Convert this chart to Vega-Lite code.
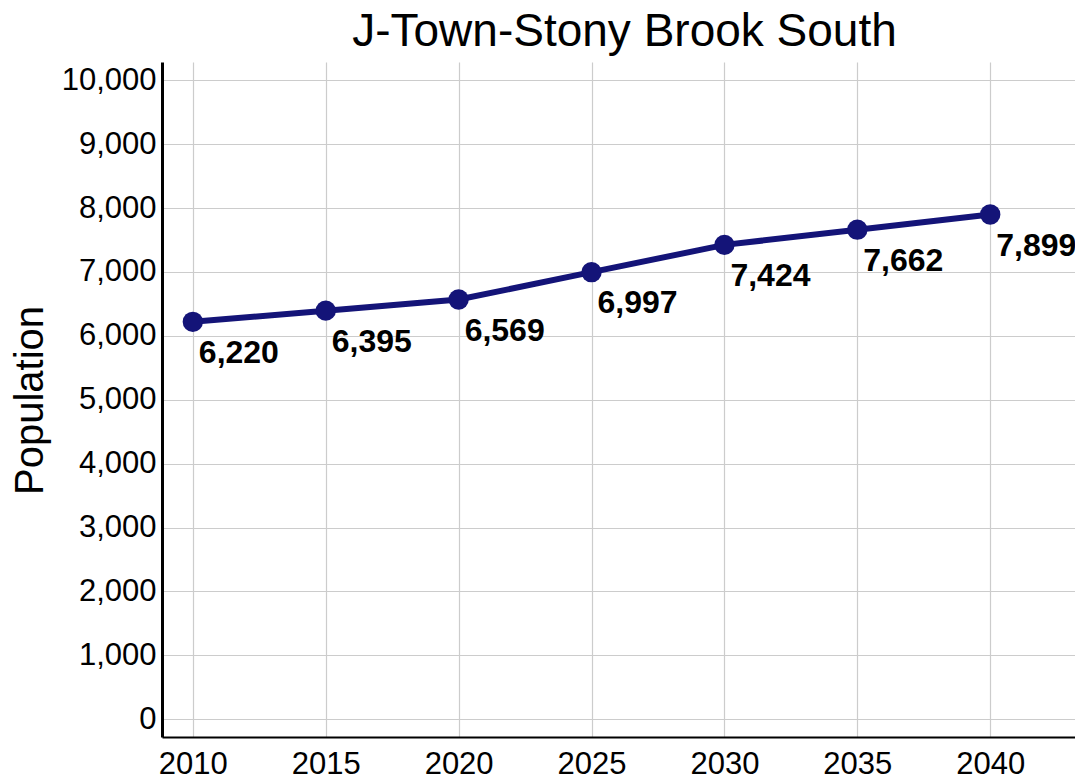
{
  "$schema": "https://vega.github.io/schema/vega-lite/v6.json",
  "width": 913,
  "height": 675,
  "autosize": {"type": "none"},
  "padding": {"left": 162, "top": 62, "right": 0, "bottom": 41},
  "background": "white",
  "config": {
    "font": "Liberation Sans",
    "view": {"stroke": null},
    "axis": {"labelColor": "black", "titleColor": "black"}
  },
  "title": {
    "text": "J-Town-Stony Brook South",
    "fontSize": 46,
    "fontWeight": "normal",
    "font": "Liberation Sans",
    "color": "black",
    "anchor": "middle",
    "frame": "group",
    "baseline": "alphabetic",
    "offset": 14,
    "dx": 6,
    "dy": 44
  },
  "data": {
    "values": [
      {"year": 2010, "population": 6220},
      {"year": 2015, "population": 6395},
      {"year": 2020, "population": 6569},
      {"year": 2025, "population": 6997},
      {"year": 2030, "population": 7424},
      {"year": 2035, "population": 7662},
      {"year": 2040, "population": 7899}
    ]
  },
  "encoding": {
    "x": {
      "field": "year",
      "type": "quantitative",
      "scale": {"domain": [2008.84, 2043.19], "nice": false, "zero": false},
      "axis": {
        "title": null,
        "values": [2010, 2015, 2020, 2025, 2030, 2035, 2040],
        "format": "d",
        "labelFontSize": 31,
        "labelPadding": 12,
        "ticks": false,
        "tickSize": 0,
        "domainColor": "black",
        "domainWidth": 2,
        "gridColor": "#cccccc",
        "gridWidth": 1.2,
        "labelFlush": false,
        "labelOverlap": false
      }
    },
    "y": {
      "field": "population",
      "type": "quantitative",
      "scale": {"domain": [-277, 10286], "nice": false, "zero": false},
      "axis": {
        "title": "Population",
        "titleFontSize": 40,
        "titleFontWeight": "normal",
        "titleAngle": -90,
        "titleBaseline": "alphabetic",
        "titleAlign": "center",
        "titleX": -120,
        "titleY": 338,
        "values": [0, 1000, 2000, 3000, 4000, 5000, 6000, 7000, 8000, 9000, 10000],
        "format": ",d",
        "labelFontSize": 31,
        "labelPadding": 6,
        "ticks": false,
        "tickSize": 0,
        "domainColor": "black",
        "domainWidth": 3,
        "gridColor": "#cccccc",
        "gridWidth": 1.2,
        "labelFlush": false,
        "labelOverlap": false
      }
    }
  },
  "layer": [
    {"mark": {"type": "line", "color": "#141478", "strokeWidth": 6}},
    {"mark": {"type": "point", "filled": true, "color": "#141478", "size": 415, "opacity": 1}},
    {
      "mark": {"type": "text", "align": "left", "baseline": "top", "dx": 6, "dy": 16, "fontSize": 32, "fontWeight": "bold", "color": "black"},
      "encoding": {"text": {"field": "population", "type": "quantitative", "format": ","}}
    }
  ]
}
